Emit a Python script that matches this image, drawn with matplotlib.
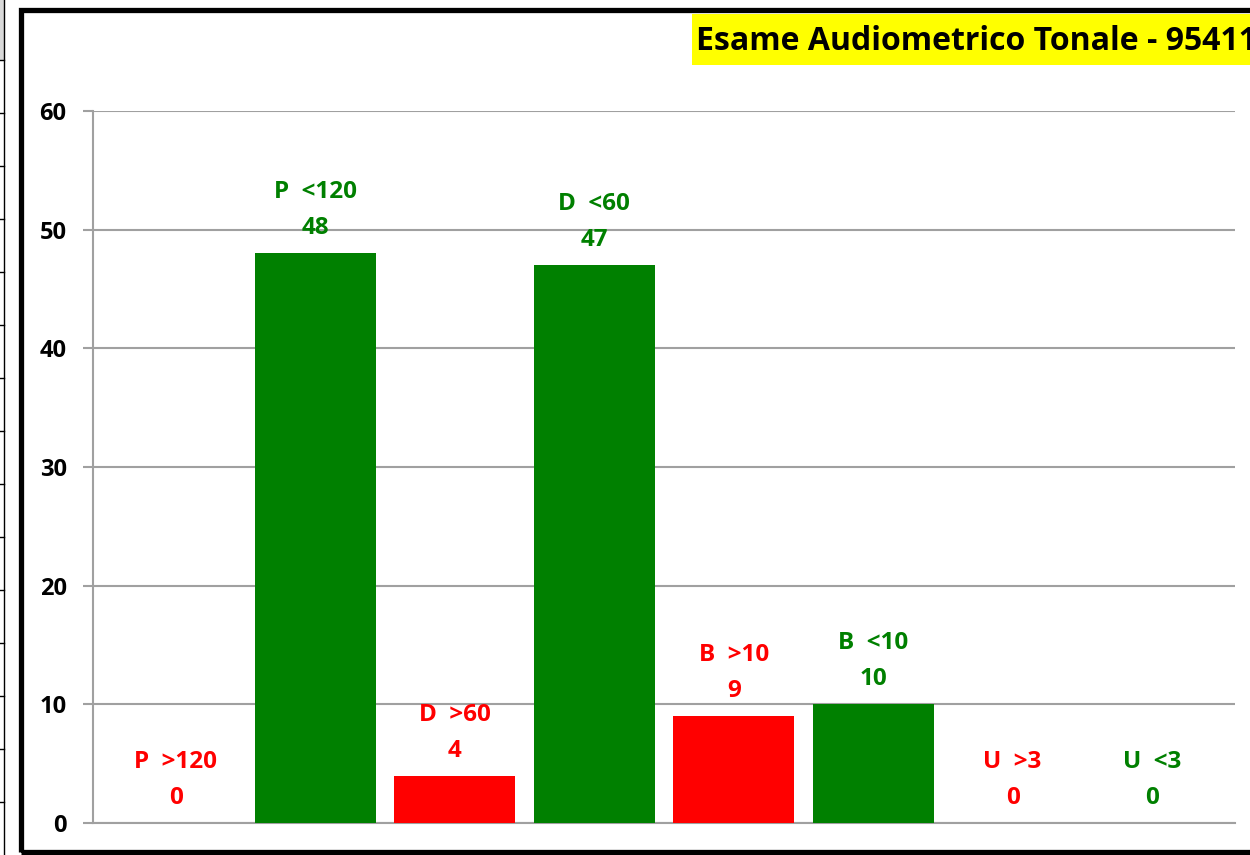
import matplotlib
matplotlib.use("Agg")
import matplotlib.pyplot as plt
from matplotlib.patches import Rectangle
from matplotlib.lines import Line2D

# data
categories = ["P  >120", "P  <120", "D  >60", "D  <60", "B  >10", "B  <10", "U  >3", "U  <3"]
values = [0, 48, 4, 47, 9, 10, 0, 0]
bar_colors = ["#ff0000", "#008000", "#ff0000", "#008000", "#ff0000", "#008000", "#ff0000", "#008000"]
yticks = [0, 10, 20, 30, 40, 50, 60]
title = "Esame Audiometrico Tonale - 95411"

W, H = 1250, 855
fig = plt.figure(figsize=(W / 100, H / 100), dpi=100)
fnt = "Open Sans"

ax = fig.add_axes([93 / W, 1 - 823 / H, (1235 - 93) / W, (823 - 111) / H])
x = list(range(len(categories)))
ax.bar(x, values, width=0.87, color=bar_colors, zorder=3)
ax.set_xlim(-0.595, 7.595)
ax.set_ylim(0, 60)
ax.set_yticks(yticks)
ax.set_yticklabels([str(t) for t in yticks], fontfamily=fnt, fontweight="bold", fontsize=17)
ax.set_xticks([])
ax.grid(axis="y", color="#a0a0a0", linewidth=1.5, zorder=0)
ax.tick_params(axis="y", length=7, width=1.5, color="#a0a0a0", pad=12)
for s in ["top", "right"]:
    ax.spines[s].set_visible(False)
for s in ["left", "bottom"]:
    ax.spines[s].set_color("#a0a0a0")
    ax.spines[s].set_linewidth(1.5)

# data labels: category name and value above every bar
for xi, v, c, col in zip(x, values, categories, bar_colors):
    ax.annotate(str(v), (xi, v), xytext=(0, 25), textcoords="offset pixels",
                ha="center", va="center", color=col, fontfamily=fnt,
                fontweight="bold", fontsize=17.5, annotation_clip=False)
    ax.annotate(c, (xi, v), xytext=(0, 61), textcoords="offset pixels",
                ha="center", va="center", color=col, fontfamily=fnt,
                fontweight="bold", fontsize=17.5, annotation_clip=False)

# title in yellow box, cut at the right edge like the original
fig.patches.append(Rectangle((692 / W, 1 - 65 / H), 600 / W, 51 / H,
                             transform=fig.transFigure, facecolor="#ffff00",
                             edgecolor="none", zorder=1))
fig.text(696 / W, 1 - 41 / H, title, fontfamily=fnt, fontweight="bold",
         fontsize=23, va="center", ha="left", zorder=2)

# thick chart border
fig.patches.append(Rectangle((20.5 / W, 1 - 852 / H), 1300 / W, (852 - 10.5) / H,
                             transform=fig.transFigure, facecolor="none",
                             edgecolor="black", linewidth=3.8, zorder=5))

# remnant of the neighbouring sheet on the far left
fig.patches.append(Rectangle((0, 1 - 60 / H), 4 / W, 60 / H, transform=fig.transFigure,
                             facecolor="#d9d9d9", edgecolor="none"))
fig.lines.append(Line2D([4 / W, 4 / W], [0, 1], transform=fig.transFigure,
                        color="black", linewidth=1))
for k in range(15):
    yy = 1 - (60 + 53 * k) / H
    fig.lines.append(Line2D([0, 4 / W], [yy, yy], transform=fig.transFigure,
                            color="black", linewidth=1))

fig.savefig("out.png", dpi=100)
